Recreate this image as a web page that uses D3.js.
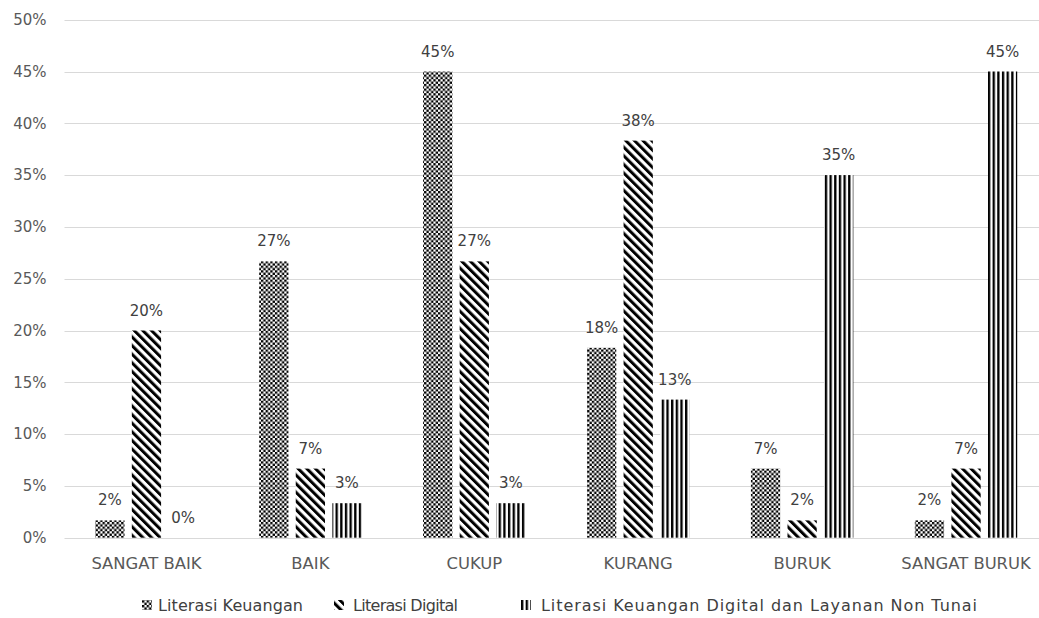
<!DOCTYPE html>
<html>
<head>
<meta charset="utf-8">
<script src="https://cdn.jsdelivr.net/npm/d3@7"></script>
<style>
  html, body { margin: 0; padding: 0; background: #fff; }
  svg { display: block; font-family: "DejaVu Sans", sans-serif; }
</style>
</head>
<body>
<svg id="chart" width="1039" height="618"></svg>
<script>
// Survey categories and the share of respondents (in %) per literacy aspect
const categories = ["SANGAT BAIK", "BAIK", "CUKUP", "KURANG", "BURUK", "SANGAT BURUK"];
const seriesNames = [
  "Literasi Keuangan",
  "Literasi Digital",
  "Literasi Keuangan Digital dan Layanan Non Tunai"
];
const literasiKeuangan = [1.67, 26.67, 45.00, 18.33, 6.67, 1.67];
const literasiDigital = [20.00, 6.67, 26.67, 38.33, 1.67, 6.67];
const literasiNonTunai = [0.00, 3.33, 3.33, 13.33, 35.00, 45.00];
const seriesValues = [literasiKeuangan, literasiDigital, literasiNonTunai];
const yTicks = [0, 5, 10, 15, 20, 25, 30, 35, 40, 45, 50];

const svg = d3.select("#chart");
const W = 1039, H = 618;
const plot = { left: 64.5, right: 1048, top: 19.7, bottom: 537.7 };
const FONT = "DejaVu Sans, sans-serif";

svg.append("rect").attr("width", W).attr("height", H).attr("fill", "#fff");

// Fill patterns: small checkerboard, wide downward diagonal, vertical stripes
const defs = svg.append("defs");
const checker = defs.append("pattern").attr("id", "pat-checker")
  .attr("patternUnits", "userSpaceOnUse").attr("width", 4.66).attr("height", 4.66);
checker.append("rect").attr("width", 4.66).attr("height", 4.66).attr("fill", "#fff");
checker.append("rect").attr("width", 2.33).attr("height", 2.33).attr("fill", "#000");
checker.append("rect").attr("x", 2.33).attr("y", 2.33).attr("width", 2.33).attr("height", 2.33).attr("fill", "#000");

const diag = defs.append("pattern").attr("id", "pat-diag")
  .attr("patternUnits", "userSpaceOnUse").attr("width", 6.1).attr("height", 10)
  .attr("patternTransform", "rotate(-45)");
diag.append("rect").attr("width", 6.1).attr("height", 10).attr("fill", "#fff");
diag.append("rect").attr("width", 3.0).attr("height", 10).attr("fill", "#000");

const vert = defs.append("pattern").attr("id", "pat-vert")
  .attr("patternUnits", "userSpaceOnUse").attr("width", 4.66).attr("height", 10);
vert.append("rect").attr("width", 4.66).attr("height", 10).attr("fill", "#fff");
vert.append("rect").attr("width", 2.33).attr("height", 10).attr("fill", "#000");

const fills = ["url(#pat-checker)", "url(#pat-diag)", "url(#pat-vert)"];

// Scales
const x = d3.scaleBand().domain(categories).range([plot.left, plot.right]).padding(0);
const xInner = d3.scaleBand().domain(d3.range(seriesNames.length))
  .range([-51.2, 51.2]).paddingInner(0.2).paddingOuter(0);
const y = d3.scaleLinear().domain([0, 50]).range([plot.bottom, plot.top]);

// Gridlines
svg.append("g").selectAll("line").data(yTicks).join("line")
  .attr("x1", plot.left).attr("x2", W)
  .attr("y1", d => Math.round(y(d)) + 0.5).attr("y2", d => Math.round(y(d)) + 0.5)
  .attr("stroke", "#d9d9d9").attr("stroke-width", 1);

// Y axis labels
const yAxis = d3.axisLeft(y).tickValues(yTicks).tickFormat(d => d + "%")
  .tickSize(0).tickPadding(18);
const gy = svg.append("g").attr("transform", `translate(${plot.left},0)`).call(yAxis);
gy.select(".domain").remove();
gy.selectAll("text").attr("font-size", 15).attr("fill", "#595959")
  .attr("font-family", FONT);

// X axis labels
const xAxis = d3.axisBottom(x).tickSize(0).tickPadding(20);
const gx = svg.append("g").attr("transform", `translate(0,${plot.bottom})`).call(xAxis);
gx.select(".domain").remove();
gx.selectAll("text").attr("font-size", 16.4).attr("fill", "#595959")
  .attr("font-family", FONT);

// Bars and value labels
const fmt = v => Math.round(v) + "%";
seriesValues.forEach((vals, si) => {
  const g = svg.append("g");
  g.selectAll("rect").data(vals).join("rect")
    .attr("x", (d, i) => x(categories[i]) + x.bandwidth() / 2 + xInner(si))
    .attr("width", xInner.bandwidth())
    .attr("y", d => y(d))
    .attr("height", d => y(0) - y(d))
    .attr("fill", fills[si]);
  g.selectAll("text").data(vals).join("text")
    .attr("x", (d, i) => x(categories[i]) + x.bandwidth() / 2 + xInner(si) + xInner.bandwidth() / 2)
    .attr("y", d => y(d) - 15)
    .attr("text-anchor", "middle")
    .attr("font-size", 15).attr("fill", "#404040")
    .text(fmt);
});

// Legend: swatch position, text offset and text span for each entry
const legendX = [142, 334, 521];
const legendTextDx = [16, 19, 20];
const legendTextLen = [145, 105, 436];
const legend = svg.append("g").attr("transform", "translate(0,605)");
seriesNames.forEach((name, i) => {
  const item = legend.append("g").attr("transform", `translate(${legendX[i]},0)`);
  item.append("rect").attr("x", 0).attr("y", -5).attr("width", 10).attr("height", 10)
    .attr("fill", fills[i]);
  item.append("text").attr("x", legendTextDx[i]).attr("y", 0).attr("dy", "0.35em")
    .attr("font-size", 16).attr("fill", "#404040")
    .attr("textLength", legendTextLen[i]).attr("lengthAdjust", "spacing")
    .text(name);
});
</script>
</body>
</html>
